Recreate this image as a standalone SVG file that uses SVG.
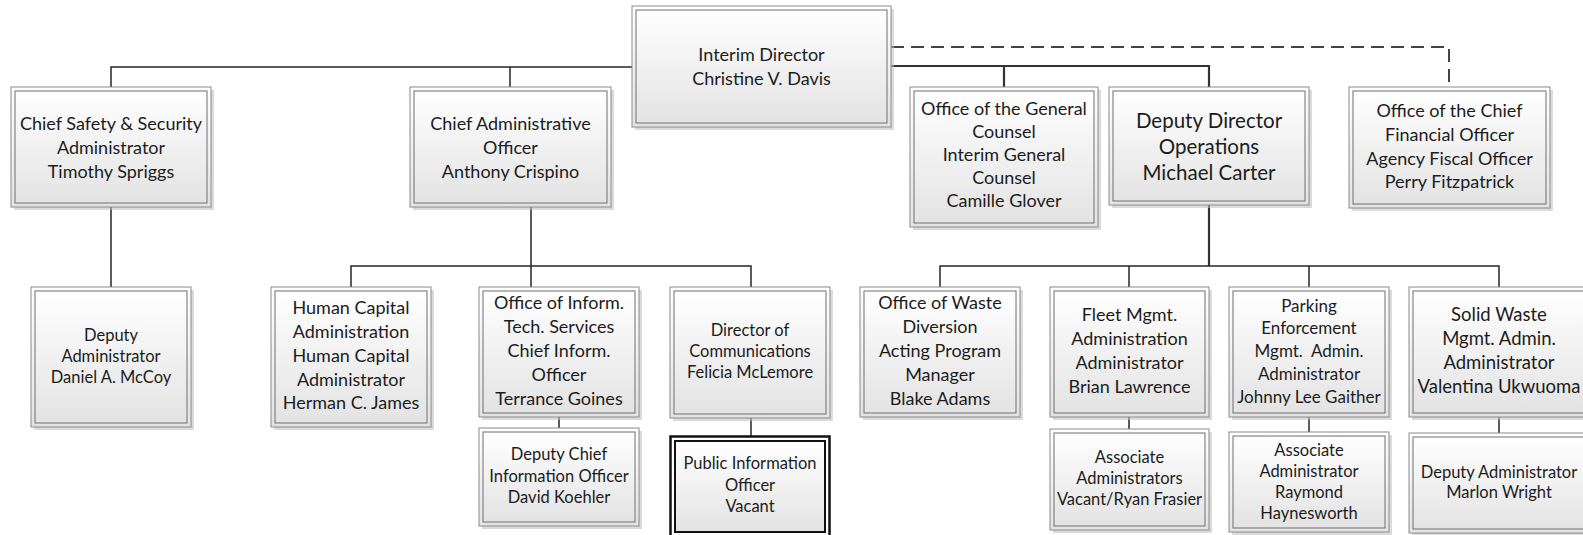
<svg xmlns="http://www.w3.org/2000/svg" width="1583" height="535" viewBox="0 0 1583 535">
<defs>
<linearGradient id="g" x1="0" y1="0" x2="0" y2="1">
<stop offset="0" stop-color="#ffffff"/>
<stop offset="1" stop-color="#e3e3e3"/>
</linearGradient>
<style>
.sh{fill:#bdbdbd;opacity:0.55}
.o{fill:url(#g);stroke:#8a8a8a;stroke-width:1}
.i{fill:url(#g);stroke:#6e6e6e;stroke-width:1}
.po{fill:#ffffff;stroke:#111;stroke-width:2.5}
.pi{fill:url(#g);stroke:#111;stroke-width:2}
text{font-family:Lato,"Open Sans",sans-serif;fill:#1c1c1c;text-anchor:middle}
.a{font-size:18px}
.b{font-size:16.5px}
.c{font-size:20.5px}
.d{font-size:17px}
.e{font-size:18.5px}
.pre{white-space:pre}
.ln{fill:none;stroke:#262626;stroke-width:1.5}
.lt{fill:none;stroke:#333;stroke-width:2.2}
.ld{fill:none;stroke:#444;stroke-width:2;stroke-dasharray:13 7}
</style>
</defs>
<rect width="1583" height="535" fill="#ffffff"/>
<g id="connectors">
<path class="ln" d="M111 87V67H632M510 67V87"/>
<path class="lt" d="M891 66H1209V87M1004 66V87"/>
<path class="ld" d="M891 47H1449V87"/>
<path class="ln" d="M111 207V287"/>
<path class="ln" d="M531 207V266M351 287V266H751V287M531 266V287"/>
<path class="ln" d="M559 417V428M751 418V436"/>
<path class="lt" d="M1209 205V266"/>
<path class="ln" d="M940 287V266H1499V287M1129 266V287M1309 266V287"/>
<path class="ln" d="M1129 417V429M1309 417V432M1499 417V433"/>
</g>
<g id="interim-director">
<rect class="sh" x="635" y="9" width="259" height="121"/>
<rect class="o" x="632" y="6" width="259" height="121"/>
<rect class="i" x="636" y="10" width="251" height="113"/>
<text class="a"><tspan x="761.5" y="61">Interim Director</tspan><tspan x="761.5" y="85">Christine V. Davis</tspan></text>
</g>
<g id="chief-safety">
<rect class="sh" x="14" y="90" width="200" height="120"/>
<rect class="o" x="11" y="87" width="200" height="120"/>
<rect class="i" x="15" y="91" width="192" height="112"/>
<text class="a"><tspan x="111" y="130">Chief Safety &amp; Security</tspan><tspan x="111" y="154">Administrator</tspan><tspan x="111" y="178">Timothy Spriggs</tspan></text>
</g>
<g id="chief-admin">
<rect class="sh" x="413" y="90" width="201" height="120"/>
<rect class="o" x="410" y="87" width="201" height="120"/>
<rect class="i" x="414" y="91" width="193" height="112"/>
<text class="a"><tspan x="510.5" y="130">Chief Administrative</tspan><tspan x="510.5" y="154">Officer</tspan><tspan x="510.5" y="178">Anthony Crispino</tspan></text>
</g>
<g id="general-counsel">
<rect class="sh" x="913" y="90" width="188" height="140"/>
<rect class="o" x="910" y="87" width="188" height="140"/>
<rect class="i" x="914" y="91" width="180" height="132"/>
<text class="a"><tspan x="1004" y="115">Office of the General</tspan><tspan x="1004" y="138">Counsel</tspan><tspan x="1004" y="161">Interim General</tspan><tspan x="1004" y="184">Counsel</tspan><tspan x="1004" y="207">Camille Glover</tspan></text>
</g>
<g id="deputy-director">
<rect class="sh" x="1112" y="90" width="200" height="118"/>
<rect class="o" x="1109" y="87" width="200" height="118"/>
<rect class="i" x="1113" y="91" width="192" height="110"/>
<text class="c"><tspan x="1209" y="128">Deputy Director</tspan><tspan x="1209" y="154">Operations</tspan><tspan x="1209" y="180">Michael Carter</tspan></text>
</g>
<g id="cfo">
<rect class="sh" x="1352" y="90" width="201" height="121"/>
<rect class="o" x="1349" y="87" width="201" height="121"/>
<rect class="i" x="1353" y="91" width="193" height="113"/>
<text class="a"><tspan x="1449.5" y="117">Office of the Chief</tspan><tspan x="1449.5" y="141">Financial Officer</tspan><tspan x="1449.5" y="165">Agency Fiscal Officer</tspan><tspan x="1449.5" y="188">Perry Fitzpatrick</tspan></text>
</g>
<g id="deputy-administrator-mccoy">
<rect class="sh" x="34" y="290" width="160" height="140"/>
<rect class="o" x="31" y="287" width="160" height="140"/>
<rect class="i" x="35" y="291" width="152" height="132"/>
<text class="b"><tspan x="111" y="341">Deputy</tspan><tspan x="111" y="362">Administrator</tspan><tspan x="111" y="383">Daniel A. McCoy</tspan></text>
</g>
<g id="human-capital">
<rect class="sh" x="274" y="290" width="160" height="140"/>
<rect class="o" x="271" y="287" width="160" height="140"/>
<rect class="i" x="275" y="291" width="152" height="132"/>
<text class="a"><tspan x="351" y="314">Human Capital</tspan><tspan x="351" y="338">Administration</tspan><tspan x="351" y="362">Human Capital</tspan><tspan x="351" y="386">Administrator</tspan><tspan x="351" y="409">Herman C. James</tspan></text>
</g>
<g id="info-tech">
<rect class="sh" x="482" y="290" width="160" height="130"/>
<rect class="o" x="479" y="287" width="160" height="130"/>
<rect class="i" x="483" y="291" width="152" height="122"/>
<text class="a"><tspan x="559" y="309">Office of Inform.</tspan><tspan x="559" y="333">Tech. Services</tspan><tspan x="559" y="357">Chief Inform.</tspan><tspan x="559" y="381">Officer</tspan><tspan x="559" y="405">Terrance Goines</tspan></text>
</g>
<g id="deputy-cio">
<rect class="sh" x="482" y="431" width="160" height="98"/>
<rect class="o" x="479" y="428" width="160" height="98"/>
<rect class="i" x="483" y="432" width="152" height="90"/>
<text class="b"><tspan x="559" y="460">Deputy Chief</tspan><tspan x="559" y="482">Information Officer</tspan><tspan x="559" y="503">David Koehler</tspan></text>
</g>
<g id="communications">
<rect class="sh" x="673" y="290" width="160" height="131"/>
<rect class="o" x="670" y="287" width="160" height="131"/>
<rect class="i" x="674" y="291" width="152" height="123"/>
<text class="b"><tspan x="750" y="336">Director of</tspan><tspan x="750" y="357">Communications</tspan><tspan x="750" y="378">Felicia McLemore</tspan></text>
</g>
<g id="public-information">
<rect class="po" x="670.5" y="436.5" width="159" height="100"/>
<rect class="pi" x="675" y="441" width="150" height="91"/>
<text class="b"><tspan x="750" y="469">Public Information</tspan><tspan x="750" y="491">Officer</tspan><tspan x="750" y="512">Vacant</tspan></text>
</g>
<g id="waste-diversion">
<rect class="sh" x="863" y="290" width="160" height="130"/>
<rect class="o" x="860" y="287" width="160" height="130"/>
<rect class="i" x="864" y="291" width="152" height="122"/>
<text class="a"><tspan x="940" y="309">Office of Waste</tspan><tspan x="940" y="333">Diversion</tspan><tspan x="940" y="357">Acting Program</tspan><tspan x="940" y="381">Manager</tspan><tspan x="940" y="405">Blake Adams</tspan></text>
</g>
<g id="fleet">
<rect class="sh" x="1053" y="290" width="159" height="130"/>
<rect class="o" x="1050" y="287" width="159" height="130"/>
<rect class="i" x="1054" y="291" width="151" height="122"/>
<text class="a"><tspan x="1129.5" y="321">Fleet Mgmt.</tspan><tspan x="1129.5" y="345">Administration</tspan><tspan x="1129.5" y="369">Administrator</tspan><tspan x="1129.5" y="393">Brian Lawrence</tspan></text>
</g>
<g id="fleet-associates">
<rect class="sh" x="1053" y="432" width="159" height="101"/>
<rect class="o" x="1050" y="429" width="159" height="101"/>
<rect class="i" x="1054" y="433" width="151" height="93"/>
<text class="b"><tspan x="1129.5" y="463">Associate</tspan><tspan x="1129.5" y="484">Administrators</tspan><tspan x="1129.5" y="505">Vacant/Ryan Frasier</tspan></text>
</g>
<g id="parking">
<rect class="sh" x="1232" y="290" width="160" height="130"/>
<rect class="o" x="1229" y="287" width="160" height="130"/>
<rect class="i" x="1233" y="291" width="152" height="122"/>
<text class="d"><tspan x="1309" y="312">Parking</tspan><tspan x="1309" y="334">Enforcement</tspan><tspan class="pre" x="1309" y="357">Mgmt.  Admin.</tspan><tspan x="1309" y="380">Administrator</tspan><tspan x="1309" y="403">Johnny Lee Gaither</tspan></text>
</g>
<g id="parking-associate">
<rect class="sh" x="1232" y="435" width="160" height="100"/>
<rect class="o" x="1229" y="432" width="160" height="100"/>
<rect class="i" x="1233" y="436" width="152" height="92"/>
<text class="b"><tspan x="1309" y="456">Associate</tspan><tspan x="1309" y="477">Administrator</tspan><tspan x="1309" y="498">Raymond</tspan><tspan x="1309" y="519">Haynesworth</tspan></text>
</g>
<g id="solid-waste">
<rect class="sh" x="1412" y="290" width="180" height="130"/>
<rect class="o" x="1409" y="287" width="180" height="130"/>
<rect class="i" x="1413" y="291" width="172" height="122"/>
<text class="e"><tspan x="1499" y="321">Solid Waste</tspan><tspan x="1499" y="345">Mgmt. Admin.</tspan><tspan x="1499" y="369">Administrator</tspan><tspan x="1499" y="393">Valentina Ukwuoma</tspan></text>
</g>
<g id="solid-waste-deputy">
<rect class="sh" x="1412" y="436" width="180" height="100"/>
<rect class="o" x="1409" y="433" width="180" height="100"/>
<rect class="i" x="1413" y="437" width="172" height="92"/>
<text class="b"><tspan x="1499" y="478">Deputy Administrator</tspan><tspan x="1499" y="498">Marlon Wright</tspan></text>
</g>
</svg>
